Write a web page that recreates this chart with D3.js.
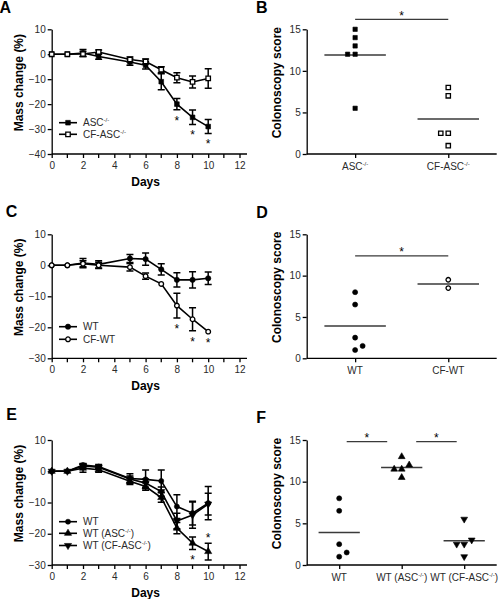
<!DOCTYPE html>
<html><head><meta charset="utf-8">
<script src="https://cdn.jsdelivr.net/npm/d3@7"></script>
<style>
body{margin:0;background:#fff}
text{font-family:"Liberation Sans",Arial,Helvetica,sans-serif}
</style>
</head><body>
<svg id="chart" width="500" height="599"></svg>
<script>
// ---------------- DATA ----------------
const days = [0, 1, 2, 3, 5, 6, 7, 8, 9, 10];
const dayTicks = [0, 2, 4, 6, 8, 10, 12];
const dayMinorTicks = [1, 3, 5, 7, 9, 11];

// Panel A
const aNames = ["ASC^{-/-}", "CF-ASC^{-/-}"];
const aAscMean = [0, 0, 0.5, -0.9, -3.1, -4.4, -11, -20, -25.3, -29];
const aAscErr  = [0, 0.3, 1.4, 1.1, 1.3, 1.5, 3.2, 2.3, 2.9, 2.8];
const aCfMean  = [0, 0, 0.1, 0.9, -2.1, -2.9, -6.2, -9.4, -11.1, -9.7];
const aCfErr   = [0, 0.3, 1.0, 0.8, 1.0, 1.0, 1.2, 2.0, 2.4, 3.9];
const aYTicks  = [10, 0, -10, -20, -30, -40];
const aStars   = [{series: 0, day: 8, side: "below"}, {series: 0, day: 9, side: "below"}, {series: 0, day: 10, side: "below"}];

// Panel B
const bCats = ["ASC^{-/-}", "CF-ASC^{-/-}"];
const bAscScores = [15, 14, 13, 12, 12, 5.5];
const bAscSlots  = [0, 0, 0, -1, 0, 0];
const bCfScores  = [8, 7, 2.5, 2.5, 1];
const bCfSlots   = [0, 0, -1, 0, 0];
const bYTicks = [0, 5, 10, 15];
const bSig = [{from: 0, to: 1, level: 16.2}];

// Panel C
const cNames = ["WT", "CF-WT"];
const cWtMean = [0, 0, 0.7, 0.3, 2.2, 2.0, -1.3, -4.7, -4.7, -4.2];
const cWtErr  = [0, 0.2, 1.5, 1.2, 1.3, 2.0, 1.8, 2.3, 2.6, 2.0];
const cCfMean = [0, 0, 0.5, 0, -0.6, -3.5, -6.0, -13.0, -17.4, -21.4];
const cCfErr  = [0, 0.2, 1.0, 1.0, 1.2, 1.0, 0.3, 4.0, 3.7, 0];
const cYTicks = [10, 0, -10, -20, -30];
const cStars  = [{series: 1, day: 8, side: "below"}, {series: 1, day: 9, side: "below"}, {series: 1, day: 10, side: "below"}];

// Panel D
const dCats = ["WT", "CF-WT"];
const dWtScores = [8, 6.5, 2.5, 1.5, 1];
const dWtSlots  = [0, 0, 0, 1, 0];
const dCfScores = [9.5, 8.5];
const dCfSlots  = [0, 0];
const dSig = [{from: 0, to: 1, level: 12.4}];

// Panel E
const eNames = ["WT", "WT (ASC^{-/-})", "WT (CF-ASC^{-/-})"];
const eWtMean    = [0, 0, 2.0, 1.5, -2.3, -2.6, -3.1, -11.3, -13.4, -10.2];
const eWtErr     = [0, 0.2, 0.5, 0.7, 1.5, 3.0, 3.5, 3.8, 3.8, 5.3];
const eAscMean   = [0, 0, 1.0, 0.5, -3.2, -4.9, -8.4, -18.2, -23.0, -25.7];
const eAscErr    = [0, 0.2, 1.3, 0.8, 1.0, 1.2, 1.5, 1.8, 2.0, 2.7];
const eCfAscMean = [0, 0, 1.7, 1.3, -2.5, -3.8, -6.5, -15.9, -14.0, -10.5];
const eCfAscErr  = [0, 0.2, 0.5, 0.5, 1.0, 1.3, 1.5, 2.5, 4.2, 3.5];
const eYTicks = [10, 0, -10, -20, -30];
const eStars  = [{series: 1, day: 9, side: "below"}, {series: 1, day: 10, side: "above"}];

// Panel F
const fCats = ["WT", "WT (ASC^{-/-})", "WT (CF-ASC^{-/-})"];
const fWtScores    = [8, 6.5, 2.5, 1.5, 1];
const fWtSlots     = [0, 0, 0, 1, 0];
const fAscScores   = [13, 12, 11.5, 11.5, 10.5];
const fAscSlots    = [0, 1, -1, 0, 0];
const fCfAscScores = [5.5, 3, 2.5, 2.5, 1];
const fCfAscSlots  = [0, 1, -1, 0, 0];
const fSig = [{from: 0, to: 1, level: 14.8}, {from: 1, to: 2, level: 14.8}];

// ---------------- DRAWING ----------------
const svg = d3.select("#chart");
svg.append("rect").attr("width", 500).attr("height", 599).attr("fill", "#fff");

const TICK_FONT = 10;
const TICK_COLOR = "#2a2a2a";

function rich(sel, str) {
  const parts = str.split(/(\^\{[^}]*\})/).filter(s => s.length);
  let raised = false;
  parts.forEach(p => {
    if (p.startsWith("^{")) {
      sel.append("tspan").attr("dy", -4).attr("font-size", "0.6em").text(p.slice(2, -1));
      raised = true;
    } else {
      const t = sel.append("tspan").text(p);
      if (raised) { t.attr("dy", 4); raised = false; }
    }
  });
}

function styleAxis(a) {
  a.selectAll("path,line").attr("stroke", "#000").attr("stroke-width", 1.3);
  a.selectAll("text").attr("font-size", TICK_FONT).attr("fill", TICK_COLOR)
    .attr("font-family", '"Liberation Sans",Arial,sans-serif');
}

function drawMarker(g, cx, cy, kind, open, size) {
  const sym = {square: d3.symbolSquare, circle: d3.symbolCircle, up: d3.symbolTriangle, down: d3.symbolTriangle}[kind];
  g.append("path")
    .attr("d", d3.symbol(sym, size)())
    .attr("transform", `translate(${cx},${cy})` + (kind === "down" ? " rotate(180)" : ""))
    .attr("fill", open ? "#fff" : "#000")
    .attr("stroke", "#000")
    .attr("stroke-width", open ? 1.3 : 0.6);
}

function panelLetter(ch, x, y) {
  svg.append("text").attr("x", x).attr("y", y).attr("font-size", 16).attr("font-weight", "bold").text(ch);
}

const X0 = 51.7, X12 = 239.5, XEND = 247;

function lineChart(o) {
  const g = svg.append("g");
  const x = d3.scaleLinear().domain([0, 12]).range([X0, X12]);
  const y = d3.scaleLinear().domain([o.yMin, o.yMax]).range([o.yBottom, o.yTop]);

  const ya = g.append("g").attr("transform", `translate(${X0},0)`)
    .call(d3.axisLeft(y).tickValues(o.yTicks).tickSize(4).tickSizeOuter(0).tickPadding(2));
  styleAxis(ya);

  const xa = g.append("g").attr("transform", `translate(0,${o.yBottom})`)
    .call(d3.axisBottom(x).tickValues(dayTicks).tickSize(4).tickSizeOuter(0).tickPadding(3.5));
  xa.select(".domain").attr("d", `M${X0},0H${XEND}`);
  xa.selectAll(".minor").data(dayMinorTicks).enter().append("line")
    .attr("class", "minor").attr("x1", d => x(d)).attr("x2", d => x(d)).attr("y1", 0).attr("y2", 4);
  styleAxis(xa);

  g.append("text").attr("x", (X0 + X12) / 2).attr("y", o.yBottom + 32)
    .attr("text-anchor", "middle").attr("font-size", 12).attr("font-weight", "bold").text("Days");
  g.append("text").attr("transform", `translate(23.3,${(o.yTop + o.yBottom) / 2 - 9}) rotate(-90)`)
    .attr("text-anchor", "middle").attr("font-size", 12).attr("font-weight", "bold").text("Mass change (%)");

  const line = d3.line().x(d => x(d.day)).y(d => y(d.v));
  o.series.forEach(s => {
    const pts = days.map((d, i) => ({day: d, v: s.mean[i], e: s.err[i]}));
    g.append("path").datum(pts).attr("d", line).attr("fill", "none").attr("stroke", "#000").attr("stroke-width", 1.6);
    pts.forEach(p => {
      if (p.e > 0.4) {
        const cx = x(p.day), t = y(p.v + p.e), b = y(p.v - p.e);
        g.append("path").attr("d", `M${cx},${t}V${b}M${cx - 3.5},${t}H${cx + 3.5}M${cx - 3.5},${b}H${cx + 3.5}`)
          .attr("stroke", "#000").attr("stroke-width", 1.5).attr("fill", "none");
      }
    });
  });
  o.series.forEach(s => {
    days.forEach((d, i) => drawMarker(g, x(d), y(s.mean[i]), s.kind, s.open, s.size));
  });

  o.stars.forEach(st => {
    const s = o.series[st.series];
    const i = days.indexOf(st.day);
    const cy = st.side === "below" ? y(s.mean[i] - s.err[i]) + 8 : y(s.mean[i] + s.err[i]) - 8;
    g.append("text").attr("x", x(st.day)).attr("y", cy + 6.9).attr("text-anchor", "middle")
      .attr("font-size", 12).attr("fill", "#000").text("*");
  });

  o.series.forEach((s, k) => {
    const ry = o.legendRows[k];
    g.append("line").attr("x1", 59).attr("x2", 77).attr("y1", ry).attr("y2", ry).attr("stroke", "#000").attr("stroke-width", 1.6);
    drawMarker(g, 68, ry, s.kind, s.open, s.size);
    const t = g.append("text").attr("x", 83).attr("y", ry + 3.6).attr("font-size", TICK_FONT).attr("fill", TICK_COLOR);
    rich(t, s.name);
  });
}

const XR0 = 306.7, XR1 = 496.7;

function dotChart(o) {
  const g = svg.append("g");
  const x = d3.scalePoint().domain(o.cats).range([XR0, XR1]).padding(0.52);
  const step = x.step();
  const y = d3.scaleLinear().domain([0, 15]).range([o.yBottom, o.yTop]);

  const ya = g.append("g").attr("transform", `translate(${XR0},0)`)
    .call(d3.axisLeft(y).tickValues(bYTicks).tickSize(4).tickSizeOuter(0).tickPadding(2));
  styleAxis(ya);
  const xa = g.append("g").attr("transform", `translate(0,${o.yBottom})`)
    .call(d3.axisBottom(x).tickSize(4).tickSizeOuter(0).tickFormat(""));
  xa.select(".domain").attr("d", `M${XR0},0H${XR1}`);
  styleAxis(xa);
  o.cats.forEach(c => {
    const t = g.append("text").attr("x", x(c)).attr("y", o.yBottom + 15.5).attr("text-anchor", "middle")
      .attr("font-size", TICK_FONT).attr("fill", TICK_COLOR);
    rich(t, c);
  });

  g.append("text").attr("transform", `translate(280.5,${(o.yTop + o.yBottom) / 2 - 9}) rotate(-90)`)
    .attr("text-anchor", "middle").attr("font-size", 12).attr("font-weight", "bold").text("Colonoscopy score");

  o.groups.forEach((gr, k) => {
    const cx = x(o.cats[k]);
    const m = d3.mean(gr.scores);
    g.append("line").attr("x1", cx - step * 0.33).attr("x2", cx + step * 0.33)
      .attr("y1", y(m)).attr("y2", y(m)).attr("stroke", "#3a3a3a").attr("stroke-width", 1.5);
    gr.scores.forEach((v, i) => drawMarker(g, cx + gr.slots[i] * 7.5, y(v), gr.kind, gr.open, gr.size));
  });

  o.sig.forEach(s => {
    const n = o.cats.length;
    const inset = k => (n > 2 ? (k === 0 || k === n - 1 ? 7.5 : 14.5) : 0);
    const x1 = x(o.cats[s.from]) + inset(s.from), x2 = x(o.cats[s.to]) - inset(s.to);
    const yy = y(s.level);
    g.append("line").attr("x1", x1).attr("x2", x2).attr("y1", yy).attr("y2", yy).attr("stroke", "#3a3a3a").attr("stroke-width", 1.3);
    g.append("text").attr("x", (x1 + x2) / 2).attr("y", yy + 0.6).attr("text-anchor", "middle")
      .attr("font-size", 12).attr("fill", "#000").text("*");
  });
}

lineChart({
  yMin: -40, yMax: 10, yTop: 29.3, yBottom: 154, yTicks: aYTicks,
  series: [
    {name: aNames[0], mean: aAscMean, err: aAscErr, kind: "square", open: false, size: 22},
    {name: aNames[1], mean: aCfMean, err: aCfErr, kind: "square", open: true, size: 20}
  ],
  stars: aStars, legendRows: [122.7, 134.3]
});
dotChart({
  cats: bCats, yTop: 29.3, yBottom: 154,
  groups: [
    {scores: bAscScores, slots: bAscSlots, kind: "square", open: false, size: 19},
    {scores: bCfScores, slots: bCfSlots, kind: "square", open: true, size: 19}
  ],
  sig: bSig
});
lineChart({
  yMin: -30, yMax: 10, yTop: 234.3, yBottom: 358.3, yTicks: cYTicks,
  series: [
    {name: cNames[0], mean: cWtMean, err: cWtErr, kind: "circle", open: false, size: 22},
    {name: cNames[1], mean: cCfMean, err: cCfErr, kind: "circle", open: true, size: 17}
  ],
  stars: cStars, legendRows: [326.7, 339.3]
});
dotChart({
  cats: dCats, yTop: 234.3, yBottom: 358.3,
  groups: [
    {scores: dWtScores, slots: dWtSlots, kind: "circle", open: false, size: 20},
    {scores: dCfScores, slots: dCfSlots, kind: "circle", open: true, size: 16}
  ],
  sig: dSig
});
lineChart({
  yMin: -30, yMax: 10, yTop: 440, yBottom: 565, yTicks: eYTicks,
  series: [
    {name: eNames[0], mean: eWtMean, err: eWtErr, kind: "circle", open: false, size: 20},
    {name: eNames[1], mean: eAscMean, err: eAscErr, kind: "up", open: false, size: 22},
    {name: eNames[2], mean: eCfAscMean, err: eCfAscErr, kind: "down", open: false, size: 22}
  ],
  stars: eStars, legendRows: [521.7, 533.3, 545.5]
});
dotChart({
  cats: fCats, yTop: 440, yBottom: 565,
  groups: [
    {scores: fWtScores, slots: fWtSlots, kind: "circle", open: false, size: 20},
    {scores: fAscScores, slots: fAscSlots, kind: "up", open: false, size: 20},
    {scores: fCfAscScores, slots: fCfAscSlots, kind: "down", open: false, size: 20}
  ],
  sig: fSig
});

panelLetter("A", -0.5, 12.5);
panelLetter("B", 256, 12.5);
panelLetter("C", 5.8, 217);
panelLetter("D", 256.3, 218);
panelLetter("E", 6.3, 420);
panelLetter("F", 256.3, 423);
</script>
</body></html>
